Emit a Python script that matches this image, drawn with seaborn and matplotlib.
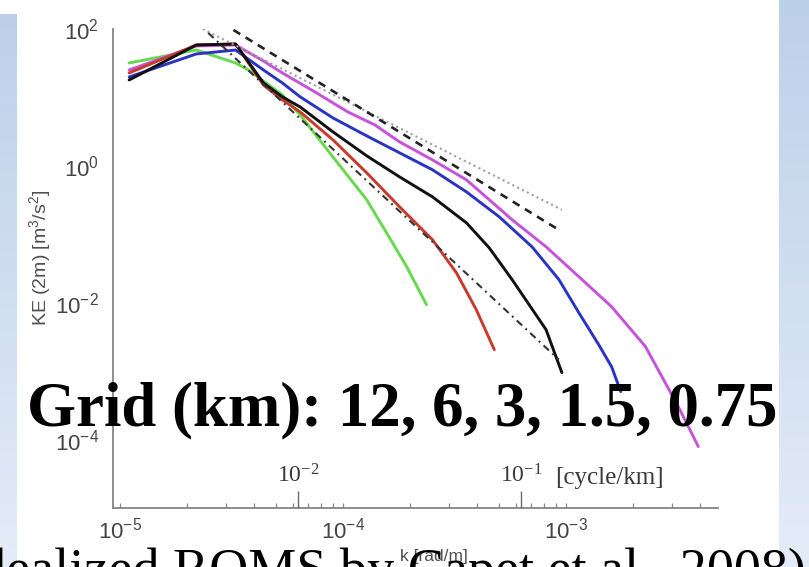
import numpy as np
import pandas as pd
import matplotlib
matplotlib.use("Agg")
import matplotlib.pyplot as plt
import seaborn as sns
from matplotlib import ticker
from matplotlib.colors import LinearSegmentedColormap

# ---------------- data ----------------
grid_labels = ["12", "6", "3", "1.5", "0.75"]

k_12 = [1.10e-5, 2.20e-5, 3.30e-5, 3.77e-5, 5.35e-5, 6.43e-5, 9.02e-5, 1.279e-4, 1.570e-4, 1.932e-4, 2.371e-4]
E_12 = [31.9, 49.3, 31.9, 25.2, 10.9, 5.55, 1.35, 0.319, 0.105, 0.0336, 0.00935]

k_6 = [1.1e-5, 2.2e-5, 3.3e-5, 4.4e-5, 5.35e-5, 6.43e-5, 9.02e-5, 1.279e-4, 1.795e-4, 2.523e-4, 3.228e-4, 3.963e-4, 4.775e-4]
E_6 = [22.8, 58.4, 60.4, 15.2, 9.2, 6.14, 2.40, 0.79, 0.252, 0.0831, 0.0274, 0.00791, 0.00206]

k_3 = [1.1e-5, 2.2e-5, 3.3e-5, 4.4e-5, 5.35e-5, 6.43e-5, 9.02e-5, 1.279e-4, 1.795e-4, 2.523e-4, 3.581e-4, 4.529e-4, 5.741e-4, 8.147e-4, 9.594e-4]
E_3 = [18.0, 58.4, 60.4, 16.3, 10.2, 7.26, 3.14, 1.40, 0.69, 0.352, 0.147, 0.0635, 0.0217, 0.00404, 0.00095]

k_1p5 = [1.1e-5, 2.2e-5, 3.3e-5, 4.4e-5, 5.35e-5, 6.43e-5, 9.02e-5, 1.279e-4, 1.795e-4, 2.523e-4, 3.581e-4, 5.023e-4, 7.047e-4, 9.311e-4, 1.143e-3, 1.403e-3, 1.603e-3, 1.762e-3]
E_1p5 = [19.9, 43.2, 49.3, 25.2, 16.3, 10.2, 5.02, 2.74, 1.55, 0.875, 0.417, 0.180, 0.0657, 0.0217, 0.00714, 0.00244, 0.00116, 0.000502]

k_0p75 = [1.1e-5, 2.2e-5, 3.3e-5, 4.4e-5, 5.35e-5, 7.50e-5, 1.052e-4, 1.390e-4, 1.795e-4, 2.523e-4, 3.581e-4, 5.741e-4, 8.147e-4, 1.143e-3, 1.603e-3, 2.275e-3, 3.192e-3, 3.926e-3]
E_0p75 = [25.2, 56.5, 58.4, 34.1, 22.8, 12.0, 6.14, 3.97, 2.24, 1.22, 0.625, 0.163, 0.0657, 0.0240, 0.00874, 0.00228, 0.000303, 7.9e-5]

# reference slopes (k^-5/3 dotted, k^-2 dashed, k^-3 dash-dot)
ref53_k = [2.35e-5, 9.6e-4]
ref53_E = [100.0, 0.228]
ref2_k = [3.23e-5, 9.3e-4]
ref2_E = [96.7, 0.116]
ref3_k = [2.49e-5, 9.3e-4]
ref3_E = [87.4, 1.47e-3]

x_ticks_rad = [1e-5, 1e-4, 1e-3]
x_ticks_cyc = [1e-2, 1e-1]
y_ticks = [1e-4, 1e-2, 1e0, 1e2]

title_text = "Grid (km): 12, 6, 3, 1.5, 0.75"
source_text = "(Idealized ROMS by Capet et al., 2008)"

# ---------------- style ----------------
sns.set_style("white")
plt.rcParams["font.family"] = ["Liberation Sans", "DejaVu Sans"]
plt.rcParams["mathtext.fontset"] = "custom"
plt.rcParams["mathtext.rm"] = "Liberation Sans"
plt.rcParams["mathtext.it"] = "Liberation Sans:italic"
plt.rcParams["mathtext.bf"] = "Liberation Sans:bold"

W, H = 809, 567
fig = plt.figure(figsize=(W / 100, H / 100), dpi=100)
fig.patch.set_facecolor("white")

# slide side bands
band_cmap = LinearSegmentedColormap.from_list("band", ["#bdd0ea", "#e4ecf7"])
grad = np.linspace(0, 1, 256).reshape(-1, 1)
for rect in ([0, 0, 17 / W, (H - 14) / H], [779 / W, 0, 30 / W, 1]):
    bax = fig.add_axes(rect, zorder=-5)
    bax.imshow(grad, aspect="auto", cmap=band_cmap, origin="upper")
    bax.set_axis_off()

# main axes
ax = fig.add_axes([113 / W, (H - 508) / H, 605 / W, 479 / H])
ax.set_facecolor("none")
ax.set_xscale("log")
ax.set_yscale("log")

frames = []
for lab, kk, ee in zip(grid_labels, [k_12, k_6, k_3, k_1p5, k_0p75], [E_12, E_6, E_3, E_1p5, E_0p75]):
    frames.append(pd.DataFrame({"k": kk, "E": ee, "grid": lab}))
df = pd.concat(frames, ignore_index=True)

palette = {"12": "#66d94f", "6": "#c93a2c", "3": "#111111", "1.5": "#2a34c4", "0.75": "#c653da"}
draw_order = ["12", "0.75", "1.5", "6", "3"]
sns.lineplot(data=df, x="k", y="E", hue="grid", hue_order=draw_order, palette=palette,
             estimator=None, sort=False, legend=False, linewidth=2.1, ax=ax)

ax.plot(ref53_k, ref53_E, color="#a0a0a0", lw=1.5, ls=(0, (1, 1.6)))
ax.plot(ref2_k, ref2_E, color="#222222", lw=1.9, ls=(0, (3.0, 2.4)))
ax.plot(ref3_k, ref3_E, color="#333333", lw=1.5, ls=(0, (3.5, 2.2, 0.9, 2.2)))

ax.set_xlim(9.31e-6, 4.81e-3)
ax.set_ylim(1e-5, 1e2)

for s in ["top", "right"]:
    ax.spines[s].set_visible(False)
for s in ["left", "bottom"]:
    ax.spines[s].set_color("#858585")
    ax.spines[s].set_linewidth(1.3)

ax.set_yticks(y_ticks)
ax.yaxis.set_minor_locator(ticker.NullLocator())
ax.tick_params(axis="y", which="major", direction="in", length=4, width=1.0,
               color="#858585", labelsize=16, labelcolor="#454545", pad=10)
ax.set_xticks(x_ticks_rad)
ax.xaxis.set_minor_locator(ticker.LogLocator(base=10, subs=np.arange(2, 10)))
ax.xaxis.set_minor_formatter(ticker.NullFormatter())
ax.tick_params(axis="x", which="both", direction="in", length=3.5, width=0.9,
               color="#858585", labelsize=16, labelcolor="#454545", pad=7)

ax.set_xlabel("k [rad/m]", fontsize=12.5, color="#505050")
ax.xaxis.set_label_coords((434 - 113) / 605, -(557 - 508) / 479)
ax.xaxis.label.set_va("center")
ax.set_ylabel("KE (2m) [m$^3$/s$^2$]", fontsize=14, color="#505050")
ax.yaxis.set_label_coords((40 - 113) / 605, (508 - 258) / 479)
ax.yaxis.label.set_va("center")

# secondary wavenumber axis in cycle/km on the bottom line
ax2 = ax.twiny()
ax2.set_xscale("log")
ax2.set_xlim(np.array(ax.get_xlim()) * 1000 / (2 * np.pi))
ax2.spines["top"].set_position(("axes", 0))
for s in ax2.spines.values():
    s.set_visible(False)
ax2.set_xticks(x_ticks_cyc)
ax2.set_xticklabels([r"$\mathdefault{10^{-2}}$", r"$\mathdefault{10^{-1}}$"])
ax2.xaxis.set_minor_locator(ticker.NullLocator())
ax2.tick_params(axis="x", which="major", top=True, labeltop=True, bottom=False, labelbottom=False,
                direction="out", length=12, width=1.0, color="#6a6a6a", labelsize=17,
                labelcolor="#3a3a3a", pad=3, labelfontfamily="Liberation Serif")
ax2.annotate("[cycle/km]", xy=(x_ticks_cyc[1], 0), xycoords=("data", "axes fraction"),
             xytext=(25, 17), textcoords="offset points", ha="left", va="baseline",
             fontsize=18, family="Liberation Serif", color="#3a3a3a")

# slide texts
fig.text(27 / W, (H - 425) / H, title_text, ha="left", va="baseline", fontsize=45.3,
         fontweight="bold", family="Liberation Serif", color="black", zorder=10)
fig.text(806 / W, (H - 586) / H, source_text, ha="right", va="baseline", fontsize=39,
         family="Liberation Serif", color="black", zorder=10)

fig.savefig("out.png", dpi=100)
